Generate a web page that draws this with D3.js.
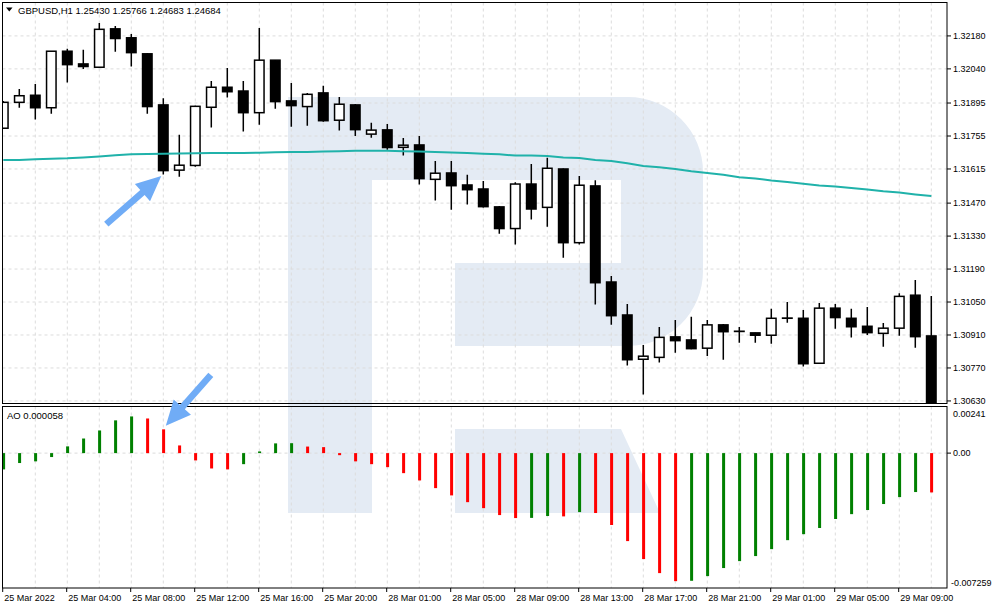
<!DOCTYPE html>
<html>
<head>
<meta charset="utf-8">
<script src="https://cdn.jsdelivr.net/npm/d3@7"></script>
<style>
	html, body { margin: 0; padding: 0; background: #fff; }
	svg { display: block; font-family: "Liberation Sans", Arial, sans-serif; font-size: 9px; }
	.grid line { stroke: #dcdcdc; stroke-dasharray: 3, 3; }
	.frame { fill: none; stroke: #000; stroke-width: 1; }
</style>
</head>
<body>
<svg id="chart" width="993" height="610"></svg>
<script>
const symbolTitle = "GBPUSD,H1  1.25430 1.25766 1.24683 1.24684";
const aoTitle = "AO 0.000058";

const opens = [1.31788, 1.31898, 1.31928, 1.31875, 1.32115, 1.32061, 1.32047, 1.32210, 1.32172, 1.32104,
	1.31887, 1.31610, 1.31630, 1.31877, 1.31962, 1.31946, 1.31854, 1.32077, 1.31904, 1.31880,
	1.31938, 1.31822, 1.31887, 1.31763, 1.31781, 1.31707, 1.31717, 1.31571, 1.31598, 1.31547,
	1.31530, 1.31454, 1.31362, 1.31551, 1.31452, 1.31615, 1.31302, 1.31543, 1.31135, 1.30995,
	1.30807, 1.30815, 1.30902, 1.30889, 1.30854, 1.30953, 1.30926, 1.30919, 1.30909, 1.30981,
	1.30981, 1.30790, 1.31024, 1.30981, 1.30947, 1.30917, 1.30939, 1.31079, 1.30906];
const highs = [1.31904, 1.31955, 1.31976, 1.32116, 1.32125, 1.32121, 1.32235, 1.32222, 1.32188, 1.32106,
	1.31915, 1.31760, 1.31883, 1.31989, 1.32044, 1.31989, 1.32214, 1.32078, 1.31980, 1.31938,
	1.31968, 1.31921, 1.31891, 1.31811, 1.31806, 1.31747, 1.31755, 1.31649, 1.31649, 1.31590,
	1.31564, 1.31458, 1.31559, 1.31636, 1.31663, 1.31617, 1.31585, 1.31567, 1.31161, 1.31042,
	1.30868, 1.30944, 1.30974, 1.30987, 1.30974, 1.30957, 1.30944, 1.30920, 1.31021, 1.31050,
	1.31016, 1.31046, 1.31042, 1.31021, 1.31029, 1.30961, 1.31087, 1.31144, 1.31076];
const lows = [1.31785, 1.31875, 1.31825, 1.31850, 1.31982, 1.32039, 1.32045, 1.32113, 1.32050, 1.31850,
	1.31591, 1.31582, 1.31624, 1.31791, 1.31918, 1.31774, 1.31803, 1.31871, 1.31794, 1.31799,
	1.31816, 1.31778, 1.31755, 1.31748, 1.31697, 1.31672, 1.31549, 1.31481, 1.31442, 1.31464,
	1.31451, 1.31340, 1.31294, 1.31400, 1.31370, 1.31238, 1.31294, 1.31039, 1.30954, 1.30780,
	1.30657, 1.30793, 1.30835, 1.30850, 1.30821, 1.30805, 1.30877, 1.30877, 1.30873, 1.30962,
	1.30776, 1.30789, 1.30937, 1.30899, 1.30910, 1.30860, 1.30907, 1.30856, 1.30605];
const closes = [1.31898, 1.31926, 1.31875, 1.32115, 1.32058, 1.32050, 1.32208, 1.32169, 1.32109, 1.31880,
	1.31608, 1.31631, 1.31881, 1.31962, 1.31943, 1.31854, 1.32077, 1.31901, 1.31884, 1.31932,
	1.31820, 1.31890, 1.31782, 1.31780, 1.31706, 1.31716, 1.31574, 1.31597, 1.31544, 1.31527,
	1.31455, 1.31362, 1.31551, 1.31445, 1.31618, 1.31302, 1.31546, 1.31132, 1.30992, 1.30805,
	1.30820, 1.30900, 1.30886, 1.30852, 1.30953, 1.30924, 1.30925, 1.30909, 1.30981, 1.30982,
	1.30788, 1.31024, 1.30984, 1.30945, 1.30920, 1.30939, 1.31074, 1.30903, 1.30609];
const maValues = [1.31653, 1.31653, 1.31656, 1.31658, 1.31660, 1.31664, 1.31668, 1.31673, 1.31677, 1.31679,
	1.31680, 1.31681, 1.31682, 1.31683, 1.31683, 1.31683, 1.31684, 1.31686, 1.31687, 1.31687,
	1.31689, 1.31690, 1.31692, 1.31692, 1.31692, 1.31690, 1.31689, 1.31687, 1.31685, 1.31683,
	1.31680, 1.31677, 1.31672, 1.31672, 1.31670, 1.31664, 1.31662, 1.31653, 1.31649, 1.31639,
	1.31628, 1.31622, 1.31615, 1.31605, 1.31598, 1.31590, 1.31580, 1.31575, 1.31566, 1.31560,
	1.31552, 1.31545, 1.31541, 1.31534, 1.31528, 1.31520, 1.31515, 1.31507, 1.31500];
const aoValues = [-0.00087, -0.00053, -0.00044, -0.00021, 0.00036, 0.00078, 0.00121, 0.00175, 0.00196, 0.00185,
	0.00127, 0.00041, -0.00039, -0.00082, -0.00087, -0.00059, 0.00009, 0.00052, 0.00053, 0.00035,
	0.00032, -0.00011, -0.00044, -0.00059, -0.00075, -0.00107, -0.00146, -0.00187, -0.00226, -0.00262,
	-0.00294, -0.00331, -0.00347, -0.00346, -0.00336, -0.00338, -0.00315, -0.00320, -0.00384, -0.00470,
	-0.00566, -0.00641, -0.00684, -0.00682, -0.00657, -0.00614, -0.00577, -0.00550, -0.00513, -0.00465,
	-0.00433, -0.00400, -0.00352, -0.00326, -0.00304, -0.00272, -0.00235, -0.00208, -0.00210];

const priceTicks = ["1.32180", "1.32040", "1.31895", "1.31755", "1.31615", "1.31470",
	"1.31330", "1.31190", "1.31050", "1.30910", "1.30770", "1.30630"];
const aoTicks = [0.00241, 0, -0.007259];
const aoTickLabels = ["0.00241", "0.00", "-0.007259"];
const timeTickBars = [0, 4, 8, 12, 16, 20, 24, 28, 32, 36, 40, 44, 48, 52, 56];
const timeTickLabels = ["25 Mar 2022", "25 Mar 04:00", "25 Mar 08:00", "25 Mar 12:00", "25 Mar 16:00",
	"25 Mar 20:00", "28 Mar 01:00", "28 Mar 05:00", "28 Mar 09:00", "28 Mar 13:00", "28 Mar 17:00",
	"28 Mar 21:00", "29 Mar 01:00", "29 Mar 05:00", "29 Mar 09:00"];

(function () {
	// panel geometry
	const padL = 2.5, padR = 947, mainTop = 2.5, mainBottom = 403.5, aoTop = 406.5, aoBottom = 588;
	const n = opens.length;

	const svg = d3.select("#chart");
	const x = d3.scaleLinear().domain([0, n - 1]).range([3.3, 3.3 + 16 * (n - 1)]);
	const y = d3.scaleLinear().domain([1.30617, 1.32324]).range([404, 2]);
	const yAo = d3.scaleLinear().domain([-0.007259, 0.00241]).range([589, 408]);

	const bars = d3.range(n).map((i) => ({
		i, open: opens[i], high: highs[i], low: lows[i], close: closes[i], ma: maValues[i], ao: aoValues[i]
	}));

	const defs = svg.append("defs");
	defs.append("clipPath").attr("id", "clip-main")
		.append("rect").attr("x", padL).attr("y", mainTop).attr("width", padR - padL).attr("height", mainBottom - mainTop);
	defs.append("clipPath").attr("id", "clip-ao")
		.append("rect").attr("x", padL).attr("y", aoTop).attr("width", padR - padL).attr("height", aoBottom - aoTop);

	// watermark logo behind everything
	const wm = svg.append("g").attr("fill", "#e4ebf4");
	wm.append("path").attr("d",
		"M288,97H628A75,75 0 0 1 703,172V271A75,75 0 0 1 628,346H455V263H621V180H372V513H288Z");
	wm.append("path").attr("d", "M455,429H621L660,513H455Z");

	// grid
	const gridCols = d3.range(2, n, 2);
	const gridMain = svg.append("g").attr("class", "grid");
	gridMain.append("g").selectAll("line").data(gridCols).join("line")
		.attr("x1", (d) => x(d)).attr("x2", (d) => x(d)).attr("y1", mainTop).attr("y2", mainBottom);
	gridMain.append("g").selectAll("line").data(priceTicks).join("line")
		.attr("x1", padL).attr("x2", padR).attr("y1", (d) => y(+d)).attr("y2", (d) => y(+d));

	const gridAo = svg.append("g").attr("class", "grid");
	gridAo.append("g").selectAll("line").data(gridCols).join("line")
		.attr("x1", (d) => x(d)).attr("x2", (d) => x(d)).attr("y1", aoTop).attr("y2", aoBottom);
	gridAo.append("line").attr("x1", padL).attr("x2", padR).attr("y1", yAo(0)).attr("y2", yAo(0));

	// candles
	const candles = svg.append("g").attr("clip-path", "url(#clip-main)")
		.selectAll("g").data(bars).join("g");
	candles.append("line")
		.attr("x1", (d) => x(d.i)).attr("x2", (d) => x(d.i))
		.attr("y1", (d) => y(d.high)).attr("y2", (d) => y(d.low))
		.attr("stroke", "#000").attr("stroke-width", 1.5);
	candles.append("rect")
		.attr("x", (d) => x(d.i) - 4.75).attr("width", 9.5)
		.attr("y", (d) => y(Math.max(d.open, d.close)))
		.attr("height", (d) => Math.abs(y(d.open) - y(d.close)))
		.attr("fill", (d) => (d.close > d.open ? "#fff" : "#000"))
		.attr("stroke", "#000").attr("stroke-width", 1.5);

	// moving average
	svg.append("path").datum(bars).attr("clip-path", "url(#clip-main)")
		.attr("fill", "none").attr("stroke", "#20b2aa").attr("stroke-width", 2)
		.attr("d", d3.line().x((d) => x(d.i)).y((d) => y(d.ma)));

	// awesome oscillator
	svg.append("g").attr("clip-path", "url(#clip-ao)")
		.selectAll("rect").data(bars).join("rect")
		.attr("x", (d) => x(d.i) - 1.2).attr("width", 3)
		.attr("y", (d) => Math.min(yAo(0), yAo(d.ao)))
		.attr("height", (d) => Math.max(1, Math.abs(yAo(d.ao) - yAo(0))))
		.attr("fill", (d) => (d.i === 0 || d.ao > aoValues[d.i - 1] ? "#008000" : "#ff0000"));

	// frames
	svg.append("rect").attr("class", "frame").attr("x", padL).attr("y", mainTop)
		.attr("width", padR - padL).attr("height", mainBottom - mainTop);
	svg.append("rect").attr("class", "frame").attr("x", padL).attr("y", aoTop)
		.attr("width", padR - padL).attr("height", aoBottom - aoTop);

	// right price axis
	const priceAxis = svg.append("g");
	priceAxis.selectAll("line").data(priceTicks).join("line")
		.attr("x1", padR).attr("x2", padR + 4).attr("y1", (d) => y(+d)).attr("y2", (d) => y(+d))
		.attr("stroke", "#000");
	priceAxis.selectAll("text").data(priceTicks).join("text")
		.attr("x", padR + 6).attr("y", (d) => y(+d)).attr("dy", "0.35em").text((d) => d);

	// right AO axis (edge labels pushed inside the panel)
	const aoAxis = svg.append("g");
	aoAxis.append("line").attr("x1", padR).attr("x2", padR + 4)
		.attr("y1", yAo(0)).attr("y2", yAo(0)).attr("stroke", "#000");
	aoAxis.selectAll("text").data(aoTicks).join("text")
		.attr("x", (d, i) => padR + (i === 2 ? 4 : 6))
		.attr("y", (d) => Math.min(aoBottom - 5, Math.max(aoTop + 7, yAo(d))))
		.attr("dy", "0.35em")
		.text((d, i) => aoTickLabels[i]);

	// time axis
	const timeAxis = svg.append("g");
	timeAxis.selectAll("line").data(timeTickBars).join("line")
		.attr("x1", (d) => x(d) - 0.6).attr("x2", (d) => x(d) - 0.6)
		.attr("y1", aoBottom).attr("y2", aoBottom + 4).attr("stroke", "#000");
	timeAxis.selectAll("text").data(timeTickBars).join("text")
		.attr("x", (d) => x(d) + 1).attr("y", aoBottom + 13)
		.text((d, i) => timeTickLabels[i]);

	// panel titles
	svg.append("path").attr("d", "M6,7.5H12.5L9.25,11.5Z").attr("fill", "#000");
	svg.append("text").attr("x", 18).attr("y", 13.5).style("font-size", "9.5px").text(symbolTitle);
	svg.append("text").attr("x", 7).attr("y", 419).style("font-size", "9.5px").text(aoTitle);

	// annotation arrows, anchored to the bar they point at
	function arrow(tipX, tipY, dx, dy) {
		const len = Math.hypot(dx, dy);
		const ux = dx / len, uy = dy / len;
		const px = -uy, py = ux;
		const headL = 25, headW = 11.5, shaftW = 3.3;
		const bx = tipX + ux * headL, by = tipY + uy * headL;
		const tx = tipX + dx, ty = tipY + dy;
		const pts = [
			[tipX, tipY],
			[bx + px * headW, by + py * headW],
			[bx + px * shaftW, by + py * shaftW],
			[tx + px * shaftW, ty + py * shaftW],
			[tx - px * shaftW, ty - py * shaftW],
			[bx - px * shaftW, by - py * shaftW],
			[bx - px * headW, by - py * headW]
		];
		svg.append("path").attr("d", "M" + pts.map((p) => p.join(",")).join("L") + "Z").attr("fill", "#70acf6");
	}
	arrow(x(10) - 2, y(lows[10]) + 1.5, -55, 48);
	arrow(x(10) + 2.5, yAo(aoValues[10]) - 3.5, 45, -51);
})();
</script>
</body>
</html>
